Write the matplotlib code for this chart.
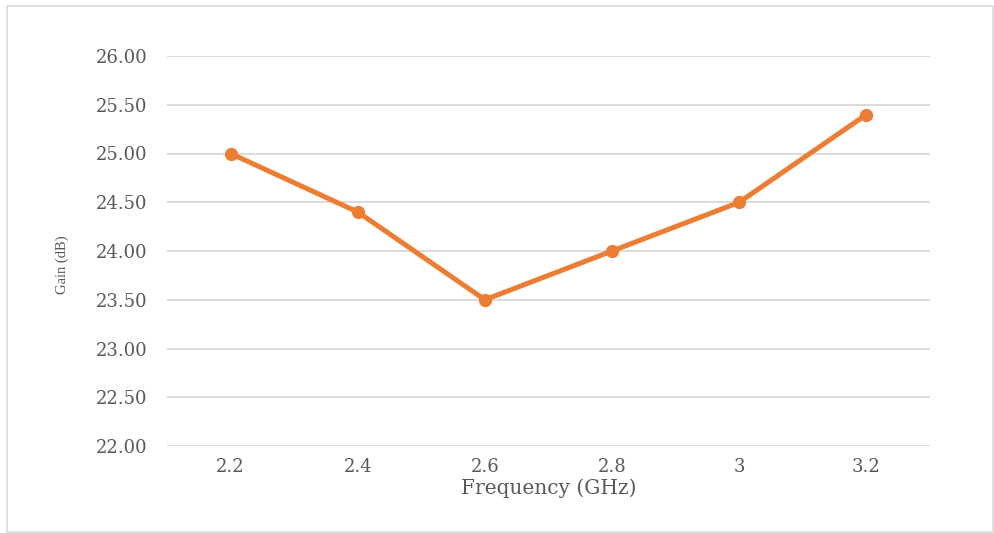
import matplotlib
matplotlib.use("Agg")
import matplotlib.pyplot as plt
from matplotlib.patches import Rectangle

# data
freqs = ["2.2", "2.4", "2.6", "2.8", "3", "3.2"]
gain = [25.0, 24.4, 23.5, 24.0, 24.5, 25.4]
yticks = [22.0, 22.5, 23.0, 23.5, 24.0, 24.5, 25.0, 25.5, 26.0]

TXT = '#595959'
plt.rcParams['font.family'] = ['DejaVu Serif', 'Liberation Serif']

fig = plt.figure(figsize=(9.94, 5.33), dpi=100)
fig.patch.set_facecolor('white')

# chart border
fig.patches.append(Rectangle((7 / 994, 1 / 533), 986 / 994, 526 / 533,
                             transform=fig.transFigure, fill=False,
                             edgecolor='#d9d9d9', linewidth=1.2))

ax = fig.add_axes([167 / 994, 87 / 533, 763 / 994, 390 / 533])

x = list(range(len(freqs)))
ax.plot(x, gain, color='#ED7D31', linewidth=3.6, marker='o',
        markersize=8.5, solid_capstyle='round', zorder=3)

ax.set_xlim(-0.5, len(freqs) - 0.5)
ax.set_ylim(22.0, 26.0)
ax.set_yticks(yticks)
ax.set_yticklabels([f"{v:.2f}" for v in yticks])
ax.set_xticks(x)
ax.set_xticklabels(freqs)

ax.grid(axis='y', color='#d9d9d9', linewidth=1.3)
ax.set_axisbelow(True)
for s in ax.spines.values():
    s.set_visible(False)
ax.tick_params(axis='both', length=0, labelsize=13, colors=TXT)
ax.tick_params(axis='y', pad=14)
ax.tick_params(axis='x', pad=9)

ax.set_xlabel("Frequency (GHz)", fontsize=14.5, color=TXT, labelpad=1)
fig.text(62 / 994, 1 - 265 / 533, "Gain (dB)", rotation=90,
         ha='center', va='center', fontsize=10.5, color=TXT,
         family='Liberation Serif')

fig.savefig("out.png", dpi=100, facecolor='white')
